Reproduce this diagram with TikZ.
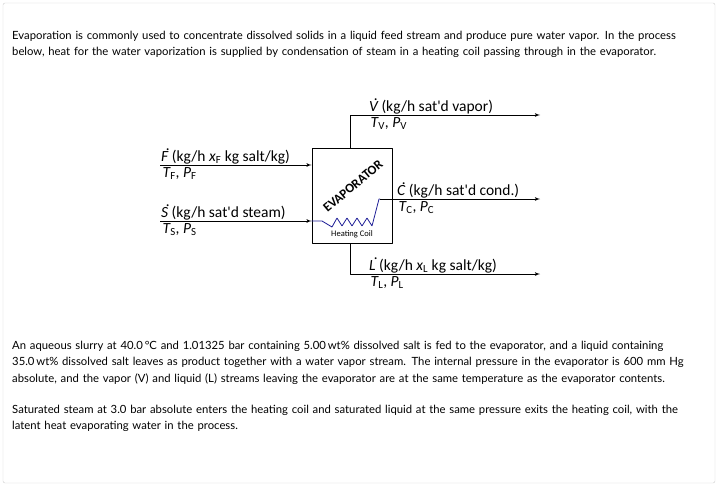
\documentclass[tikz,border=0pt]{standalone}
\usepackage{fontspec}
\setmainfont{Lato}
\newfontfamily\calib{Carlito}
\usetikzlibrary{arrows,positioning,calc}
\definecolor{coilblue}{RGB}{30,30,150}
\newcommand{\fl}[1]{{\itshape\leavevmode\rlap{\hspace{.32em}\raisebox{.68em}{.}}#1}}
\newcommand{\vr}[2]{{\itshape #1}\textsubscript{#2}}
\begin{document}
\begin{tikzpicture}[x=1pt,y=-1pt,>=latex',line join=bevel,
  stream/.style={->,thick},
  lab/.style={font=\calib\fontsize{15.5}{17}\selectfont,anchor=south west,inner sep=1pt},
  sub/.style={font=\calib\fontsize{15.5}{17}\selectfont,anchor=north west,inner sep=2.5pt},
  para/.style={font=\fontsize{11.3}{16.3}\selectfont,anchor=north west,align=left,inner sep=0pt,text width=700pt}]
\useasboundingbox (0,0) rectangle (719,487);
\draw[gray!40,rounded corners=2pt] (3,3) rectangle (715,483);
%%
\node (top) at (12,31) [para] {Evaporation is commonly used to concentrate dissolved solids in a liquid feed stream and produce pure water vapor. In the process\\below, heat for the water vaporization is supplied by condensation of steam in a heating coil passing through in the evaporator.};
%
\node (evap) at (352,195.5) [draw,thick,minimum width=80pt,minimum height=95pt,inner sep=0pt] {};
\node at (353,186) [rotate=40,font=\calib\bfseries\fontsize{13}{14}\selectfont] {EVAPORATOR};
\node (coil) at (352,234) [font=\calib\fontsize{8.5}{9}\selectfont] {Heating Coil};
%
\coordinate (fin) at (160,165);
\coordinate (sin) at (160,221);
\coordinate (vup) at (350,115);
\coordinate (vout) at (540,115);
\coordinate (lup) at (350,274);
\coordinate (lout) at (540,274);
\coordinate (cin) at (380,199);
\coordinate (cout) at (540,199);
\draw [stream] (fin) -- (fin -| evap.west);
\draw [stream] (sin) -- (sin -| evap.west);
\draw [stream] (evap.north -| vup) -- (vup) -- (vout);
\draw [stream] (evap.south -| lup) -- (lup) -- (lout);
\draw [stream] (cin) -- (cout);
\draw [coilblue,thick] (sin -| evap.west) -- (322,221) -- (332,227) -- (337,218) -- (342,226) -- (347,218) -- (352,226)
  -- (357,218) -- (362,226) -- (367,218) -- (372,226) -- (379,199) -- (cin);
%
\node at (fin) [lab] {\fl{F} (kg/h \vr{x}{F} kg salt/kg)};
\node at (fin) [sub] {\vr{T}{F}, \vr{P}{F}};
\node at (sin) [lab] {\fl{S} (kg/h sat'd steam)};
\node at (sin) [sub] {\vr{T}{S}, \vr{P}{S}};
\node at (368,115) [lab] {\fl{V} (kg/h sat'd vapor)};
\node at (368,115) [sub] {\vr{T}{V}, \vr{P}{V}};
\node at (396,199) [lab] {\fl{C} (kg/h sat'd cond.)};
\node at (396,199) [sub] {\vr{T}{C}, \vr{P}{C}};
\node at (368,274) [lab] {\fl{L} (kg/h \vr{x}{L} kg salt/kg)};
\node at (368,274) [sub] {\vr{T}{L}, \vr{P}{L}};
%
\node (bot1) at (12,341) [para] {An aqueous slurry at 40.0\,°C and 1.01325 bar containing 5.00\,wt\% dissolved salt is fed to the evaporator, and a liquid containing\\35.0\,wt\% dissolved salt leaves as product together with a water vapor stream. The internal pressure in the evaporator is 600 mm Hg\\absolute, and the vapor (V) and liquid (L) streams leaving the evaporator are at the same temperature as the evaporator contents.};
\node (bot2) at (12,405) [para] {Saturated steam at 3.0 bar absolute enters the heating coil and saturated liquid at the same pressure exits the heating coil, with the\\latent heat evaporating water in the process.};
\end{tikzpicture}
\end{document}
